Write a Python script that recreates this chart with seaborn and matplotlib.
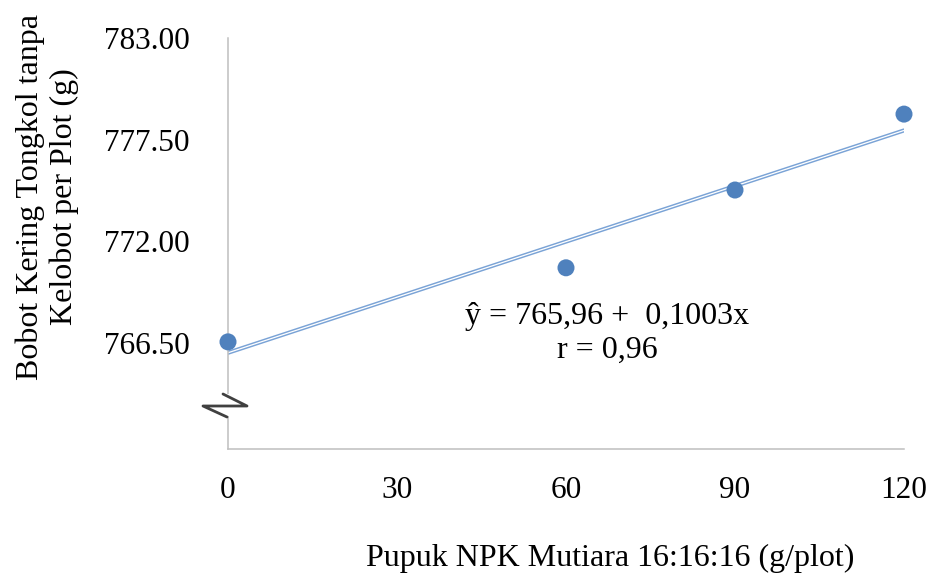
import matplotlib
matplotlib.use("Agg")
import matplotlib.pyplot as plt
import seaborn as sns
import numpy as np
import pandas as pd
from matplotlib.patches import Rectangle

# Data
dose = [0, 60, 90, 120]
weight = [766.55, 770.56, 774.77, 778.88]
intercept = 765.96
slope = 0.1003
x_ticks = [0, 30, 60, 90, 120]
y_ticks = [766.50, 772.00, 777.50, 783.00]
x_label = "Pupuk NPK Mutiara 16:16:16 (g/plot)"
y_label = "Bobot Kering Tongkol tanpa\nKelobot per Plot (g)"
eq_text = "ŷ = 765,96 +  0,1003x\nr = 0,96"

sns.set_theme(style="white")
plt.rcParams['font.family'] = ['Liberation Serif', 'DejaVu Serif']
plt.rcParams['text.color'] = 'black'

fig = plt.figure(figsize=(9.31, 5.77), dpi=100)
ax = fig.add_axes([228/931, 1-449/577, (904-228)/931, (449-38)/577])

df = pd.DataFrame({"dose": dose, "weight": weight})
trend_x = np.array([0, 120])
trend = pd.DataFrame({"dose": trend_x, "weight": intercept + slope * trend_x})

axis_color = "#bfbfbf"
sns.lineplot(data=trend, x="dose", y="weight", ax=ax, color="#7aa3d6", lw=3.0, zorder=2)
sns.lineplot(data=trend, x="dose", y="weight", ax=ax, color="white", lw=0.9, zorder=2.1)
sns.scatterplot(data=df, x="dose", y="weight", ax=ax, color="#4f81bd", s=150,
                edgecolor="none", zorder=4, clip_on=False)

ax.set_xlim(0, 120)
ax.set_ylim(760.75, 783)
ax.set_xticks(x_ticks)
ax.set_xticklabels([str(v) for v in x_ticks])
ax.set_yticks(y_ticks)
ax.set_yticklabels([f"{v:.2f}" for v in y_ticks])
ax.tick_params(axis="both", direction="out", length=6.5, width=1.1, color=axis_color,
               labelsize=22.5, labelcolor="black")
ax.tick_params(axis="y", pad=21)
ax.tick_params(axis="x", pad=13)

for s in ["top", "right"]:
    ax.spines[s].set_visible(False)
for s in ["left", "bottom"]:
    ax.spines[s].set_color(axis_color)
    ax.spines[s].set_linewidth(1.1)

ax.set_xlabel("")
ax.set_ylabel("")
fig.text(610/931, 1-558/577, x_label, ha="center", va="center", fontsize=23,
         color="black")
fig.text(47.5/931, 1-197/577, y_label, ha="center", va="center", fontsize=23,
         rotation=90, linespacing=1.2, color="black")
fig.text(607/931, 1-333/577, eq_text, ha="center", va="center", fontsize=23,
         linespacing=1.22, color="black")

# axis break symbol
tr = fig.transFigure
rect = Rectangle((203/931, 1-416/577), 58/931, 22/577, transform=tr, facecolor="white",
                 edgecolor="none", zorder=5)
fig.patches.append(rect)
zx = [223, 247, 203, 227]
zy = [394, 406, 406, 417]
fig.lines.append(plt.Line2D([v/931 for v in zx], [1-v/577 for v in zy],
                            transform=tr, color="#404040", lw=2, zorder=6))

fig.savefig("out.png", dpi=100)
